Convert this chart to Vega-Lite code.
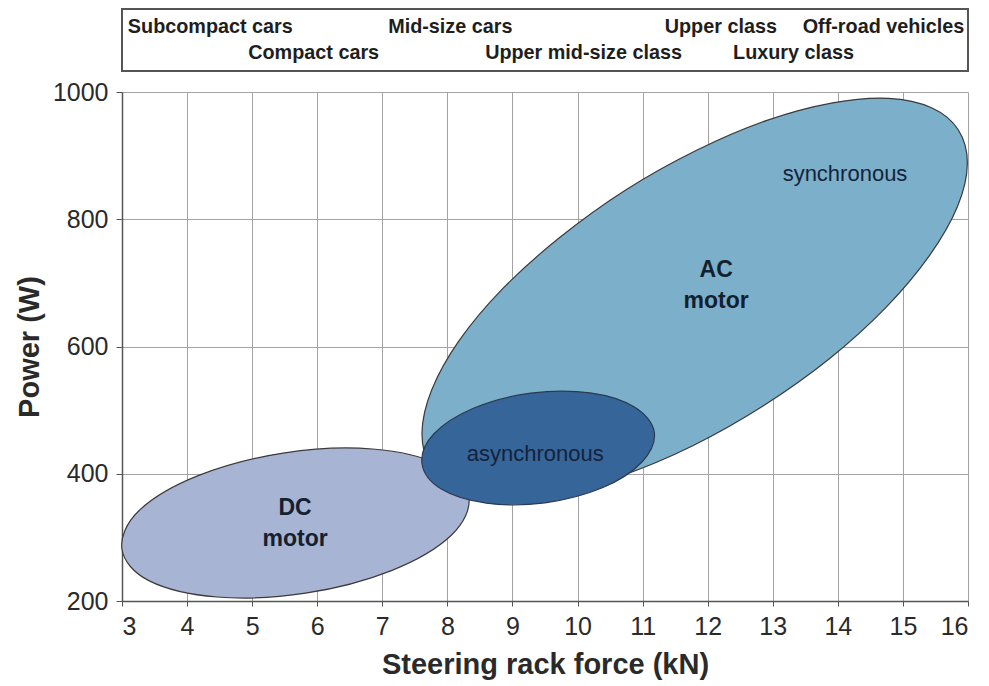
{
  "$schema": "https://vega.github.io/schema/vega-lite/v6.json",
  "background": "white",
  "autosize": {"type": "pad"},
  "padding": {"left": 15, "top": 8, "right": 21, "bottom": 4},
  "spacing": 21,
  "bounds": "flush",
  "resolve": {"scale": {"x": "shared"}},
  "config": {
    "font": "Liberation Sans",
    "axis": {
      "domainColor": "#555555",
      "domainWidth": 1.5,
      "tickColor": "#555555",
      "tickSize": 6,
      "gridColor": "#a3a3a3",
      "gridWidth": 1,
      "labelFont": "Liberation Sans",
      "labelFontSize": 25,
      "labelColor": "#2a2a2a",
      "titleFont": "Liberation Sans",
      "titleFontSize": 29,
      "titleFontWeight": "bold",
      "titleColor": "#2a2a2a"
    }
  },
  "datasets": {
    "ellipses": [
      {"shape": "DC", "order": 1, "x": 8.33, "y": 363.9},
      {"shape": "DC", "order": 2, "x": 8.06, "y": 303.3},
      {"shape": "DC", "order": 3, "x": 7.14, "y": 247.8},
      {"shape": "DC", "order": 4, "x": 5.82, "y": 212.3},
      {"shape": "DC", "order": 5, "x": 4.46, "y": 206.3},
      {"shape": "DC", "order": 6, "x": 3.42, "y": 231.6},
      {"shape": "DC", "order": 7, "x": 3.0, "y": 281.3},
      {"shape": "DC", "order": 8, "x": 3.26, "y": 341.9},
      {"shape": "DC", "order": 9, "x": 4.18, "y": 397.4},
      {"shape": "DC", "order": 10, "x": 5.5, "y": 432.9},
      {"shape": "DC", "order": 11, "x": 6.85, "y": 438.9},
      {"shape": "DC", "order": 12, "x": 7.89, "y": 413.6},
      {"shape": "AC", "order": 1, "x": 15.85, "y": 940.6},
      {"shape": "AC", "order": 2, "x": 15.99, "y": 887.6},
      {"shape": "AC", "order": 3, "x": 15.84, "y": 820.4},
      {"shape": "AC", "order": 4, "x": 15.41, "y": 743.2},
      {"shape": "AC", "order": 5, "x": 14.74, "y": 661.5},
      {"shape": "AC", "order": 6, "x": 13.87, "y": 580.8},
      {"shape": "AC", "order": 7, "x": 12.85, "y": 506.5},
      {"shape": "AC", "order": 8, "x": 11.77, "y": 444.1},
      {"shape": "AC", "order": 9, "x": 10.68, "y": 397.1},
      {"shape": "AC", "order": 10, "x": 9.68, "y": 369.4},
      {"shape": "AC", "order": 11, "x": 8.81, "y": 362.4},
      {"shape": "AC", "order": 12, "x": 8.15, "y": 377.1},
      {"shape": "AC", "order": 13, "x": 7.74, "y": 411.9},
      {"shape": "AC", "order": 14, "x": 7.61, "y": 464.8},
      {"shape": "AC", "order": 15, "x": 7.76, "y": 532.1},
      {"shape": "AC", "order": 16, "x": 8.18, "y": 609.3},
      {"shape": "AC", "order": 17, "x": 8.85, "y": 691.0},
      {"shape": "AC", "order": 18, "x": 9.73, "y": 771.6},
      {"shape": "AC", "order": 19, "x": 10.74, "y": 846.0},
      {"shape": "AC", "order": 20, "x": 11.83, "y": 908.4},
      {"shape": "AC", "order": 21, "x": 12.91, "y": 955.4},
      {"shape": "AC", "order": 22, "x": 13.92, "y": 983.0},
      {"shape": "AC", "order": 23, "x": 14.78, "y": 990.1},
      {"shape": "AC", "order": 24, "x": 15.44, "y": 975.3},
      {"shape": "async", "order": 1, "x": 11.18, "y": 464.8},
      {"shape": "async", "order": 2, "x": 10.99, "y": 418.5},
      {"shape": "async", "order": 3, "x": 10.38, "y": 377.9},
      {"shape": "async", "order": 4, "x": 9.5, "y": 354.3},
      {"shape": "async", "order": 5, "x": 8.6, "y": 353.7},
      {"shape": "async", "order": 6, "x": 7.9, "y": 376.3},
      {"shape": "async", "order": 7, "x": 7.61, "y": 416.1},
      {"shape": "async", "order": 8, "x": 7.79, "y": 462.5},
      {"shape": "async", "order": 9, "x": 8.4, "y": 503.0},
      {"shape": "async", "order": 10, "x": 9.28, "y": 526.6},
      {"shape": "async", "order": 11, "x": 10.19, "y": 527.2},
      {"shape": "async", "order": 12, "x": 10.88, "y": 504.6}
    ],
    "labels": [
      {"label": "DC", "x": 5.66, "y": 346.2, "weight": "bold"},
      {"label": "motor", "x": 5.66, "y": 297.4, "weight": "bold"},
      {"label": "AC", "x": 12.13, "y": 719.5, "weight": "bold"},
      {"label": "motor", "x": 12.13, "y": 671.5, "weight": "bold"},
      {"label": "synchronous", "x": 14.11, "y": 871.1, "weight": "normal"},
      {"label": "asynchronous", "x": 9.35, "y": 431.0, "weight": "normal"}
    ],
    "classes": [
      {"label": "Subcompact cars", "force": 3.09, "row": "1"},
      {"label": "Mid-size cars", "force": 7.09, "row": "1"},
      {"label": "Upper class", "force": 11.34, "row": "1"},
      {"label": "Off-road vehicles", "force": 13.46, "row": "1"},
      {"label": "Compact cars", "force": 4.94, "row": "2"},
      {"label": "Upper mid-size class", "force": 8.58, "row": "2"},
      {"label": "Luxury class", "force": 12.39, "row": "2"}
    ]
  },
  "vconcat": [
    {
      "width": 846,
      "height": 62,
      "view": {"stroke": "#555555", "strokeWidth": 2},
      "data": {"name": "classes"},
      "mark": {"type": "text", "align": "left", "baseline": "middle", "fontWeight": "bold", "fontSize": 19.8, "color": "#1e1e1e"},
      "encoding": {
        "x": {"field": "force", "type": "quantitative", "scale": {"domain": [3, 16], "nice": false, "zero": false}, "axis": null},
        "y": {"field": "row", "type": "ordinal", "scale": {"type": "point", "padding": 0.7}, "axis": null},
        "text": {"field": "label"}
      }
    },
    {
      "width": 846,
      "height": 509,
      "view": {"stroke": null},
      "encoding": {
        "x": {
          "field": "x", "type": "quantitative",
          "scale": {"domain": [3, 16], "nice": false, "zero": false},
          "axis": {"title": "Steering rack force (kN)", "format": "d", "values": [3, 4, 5, 6, 7, 8, 9, 10, 11, 12, 13, 14, 15, 16], "labelPadding": 8, "titlePadding": 11, "tickSize": 5}
        },
        "y": {
          "field": "y", "type": "quantitative",
          "scale": {"domain": [200, 1000], "nice": false, "zero": false},
          "axis": {"title": "Power (W)", "format": "d", "values": [200, 400, 600, 800, 1000], "labelPadding": 8, "titlePadding": 8}
        }
      },
      "layer": [
        {
          "data": {"name": "ellipses"},
          "transform": [{"filter": "datum.shape === 'DC'"}],
          "mark": {"type": "line", "interpolate": "cardinal-closed", "fill": "#a8b4d4", "stroke": "#3a3a3a", "strokeWidth": 1.2},
          "encoding": {"order": {"field": "order", "type": "quantitative"}}
        },
        {
          "data": {"name": "ellipses"},
          "transform": [{"filter": "datum.shape === 'AC'"}],
          "mark": {"type": "line", "interpolate": "cardinal-closed", "fill": "#7cafca", "stroke": "#3a3a3a", "strokeWidth": 1.2},
          "encoding": {"order": {"field": "order", "type": "quantitative"}}
        },
        {
          "data": {"name": "ellipses"},
          "transform": [{"filter": "datum.shape === 'async'"}],
          "mark": {"type": "line", "interpolate": "cardinal-closed", "fill": "#36659a", "stroke": "#2a3a50", "strokeWidth": 1.2},
          "encoding": {"order": {"field": "order", "type": "quantitative"}}
        },
        {
          "data": {"name": "labels"},
          "transform": [{"filter": "datum.weight === 'bold'"}],
          "mark": {"type": "text", "fontWeight": "bold", "fontSize": 23, "color": "#14202e", "baseline": "middle"},
          "encoding": {"text": {"field": "label"}}
        },
        {
          "data": {"name": "labels"},
          "transform": [{"filter": "datum.weight === 'normal'"}],
          "mark": {"type": "text", "fontSize": 22, "color": "#14233a", "baseline": "middle"},
          "encoding": {"text": {"field": "label"}}
        }
      ]
    }
  ]
}
